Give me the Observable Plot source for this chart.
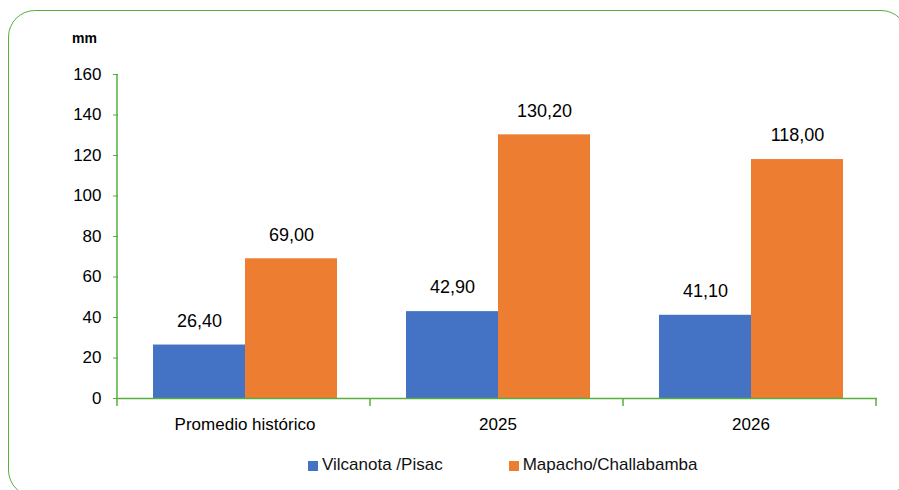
<!DOCTYPE html>
<html>
<head>
<meta charset="utf-8">
<script src="https://cdn.jsdelivr.net/npm/d3@7"></script>
<script src="https://cdn.jsdelivr.net/npm/@observablehq/plot@0.6"></script>
<style>
  html, body { margin: 0; padding: 0; background: #fff; }
  #wrap { position: relative; width: 899px; height: 490px; overflow: hidden; background: #fff;
          font-family: "Liberation Sans", Arial, sans-serif; }
  #frame { position: absolute; left: 8px; top: 10px; width: 900px; height: 487px;
           border: 1.5px solid #56ae3e; border-radius: 27px; box-sizing: border-box; }
  #chart { position: absolute; left: 0; top: 0; }
  #unit { position: absolute; left: 72px; top: 30px; font-weight: bold; font-size: 14px; color: #000; }
  #legend { position: absolute; left: 308px; top: 455px; display: flex; align-items: center;
            font-size: 17px; color: #111; }
  .item { display: flex; align-items: center; }
  .sw { width: 10px; height: 10px; margin-right: 4px; margin-top: 1px; }
  #chart svg text { fill: #000; }
  #chart svg [aria-label^="y-axis"] line, #chart svg [aria-label^="y-axis"] path { stroke: #56ae3e; stroke-opacity: 1; }
  #chart svg [aria-label^="fx-axis"] text { font-size: 17px; }
</style>
</head>
<body>
<div id="wrap">
  <div id="frame"></div>
  <div id="chart"></div>
  <div id="unit">mm</div>
  <div id="legend"></div>
</div>
<script>
const categories = ["Promedio histórico", "2025", "2026"];
const series = ["Vilcanota /Pisac", "Mapacho/Challabamba"];
const vilcanota = [26.4, 42.9, 41.1];
const mapacho = [69.0, 130.2, 118.0];
const yTicks = [0, 20, 40, 60, 80, 100, 120, 140, 160];
const colors = ["#4472C4", "#ED7D31"];
const axisGreen = "#56ae3e";

const data = categories.flatMap((c, i) => [
  {cat: c, s: series[0], v: vilcanota[i]},
  {cat: c, s: series[1], v: mapacho[i]}
]);
const comma = d3.formatLocale({decimal: ",", thousands: ".", grouping: [3], currency: ["", ""]}).format(".2f");

const chart = Plot.plot({
  width: 899,
  height: 445,
  marginLeft: 117,
  marginRight: 22,
  marginTop: 74,
  marginBottom: 47,
  style: {fontFamily: '"Liberation Sans", Arial, sans-serif', fontSize: "17px", color: "#000", background: "transparent", overflow: "visible"},
  facet: {data, x: "cat"},
  fx: {domain: categories, padding: 0, axis: "bottom", tickSize: 0, tickPadding: 19, label: null},
  x: {domain: series, paddingInner: 0, paddingOuter: 0.37, axis: null},
  y: {domain: [0, 160], ticks: yTicks, tickSize: 5, tickPadding: 12, label: null, tickFormat: d => String(d)},
  color: {domain: series, range: colors},
  marks: [
    Plot.barY(data, {x: "s", y: "v", fill: "s"}),
    Plot.text(data, {x: "s", y: "v", text: d => comma(d.v), dy: -24, fontSize: 18, fill: "#000"}),
    Plot.ruleY([0], {stroke: axisGreen, strokeWidth: 1.5})
  ]
});
document.getElementById("chart").appendChild(chart);

// axis line and category boundary ticks, positioned from the library's scales
const fx = chart.scale("fx");
const y = chart.scale("y");
const svg = d3.select(chart);
const y0 = Math.max(...y.range), yTop = Math.min(...y.range);
const step = fx.step ?? ((fx.range[1] - fx.range[0]) / categories.length);
const g = svg.append("g");
g.append("line").attr("x1", fx.range[0]).attr("x2", fx.range[0]).attr("y1", yTop).attr("y2", y0)
  .attr("stroke", axisGreen).attr("stroke-width", 1.5);
for (let i = 0; i <= categories.length; i++) {
  const x = fx.range[0] + i * step;
  g.append("line").attr("x1", x).attr("x2", x).attr("y1", y0).attr("y2", y0 + 8)
    .attr("stroke", axisGreen).attr("stroke-width", 1.5);
}

// legend
const legend = d3.select("#legend");
series.forEach((s, i) => {
  const it = legend.append("div").attr("class", "item").style("margin-right", i === 0 ? "66px" : "0");
  it.append("div").attr("class", "sw").style("background", colors[i]);
  it.append("span").text(s);
});
</script>
</body>
</html>
